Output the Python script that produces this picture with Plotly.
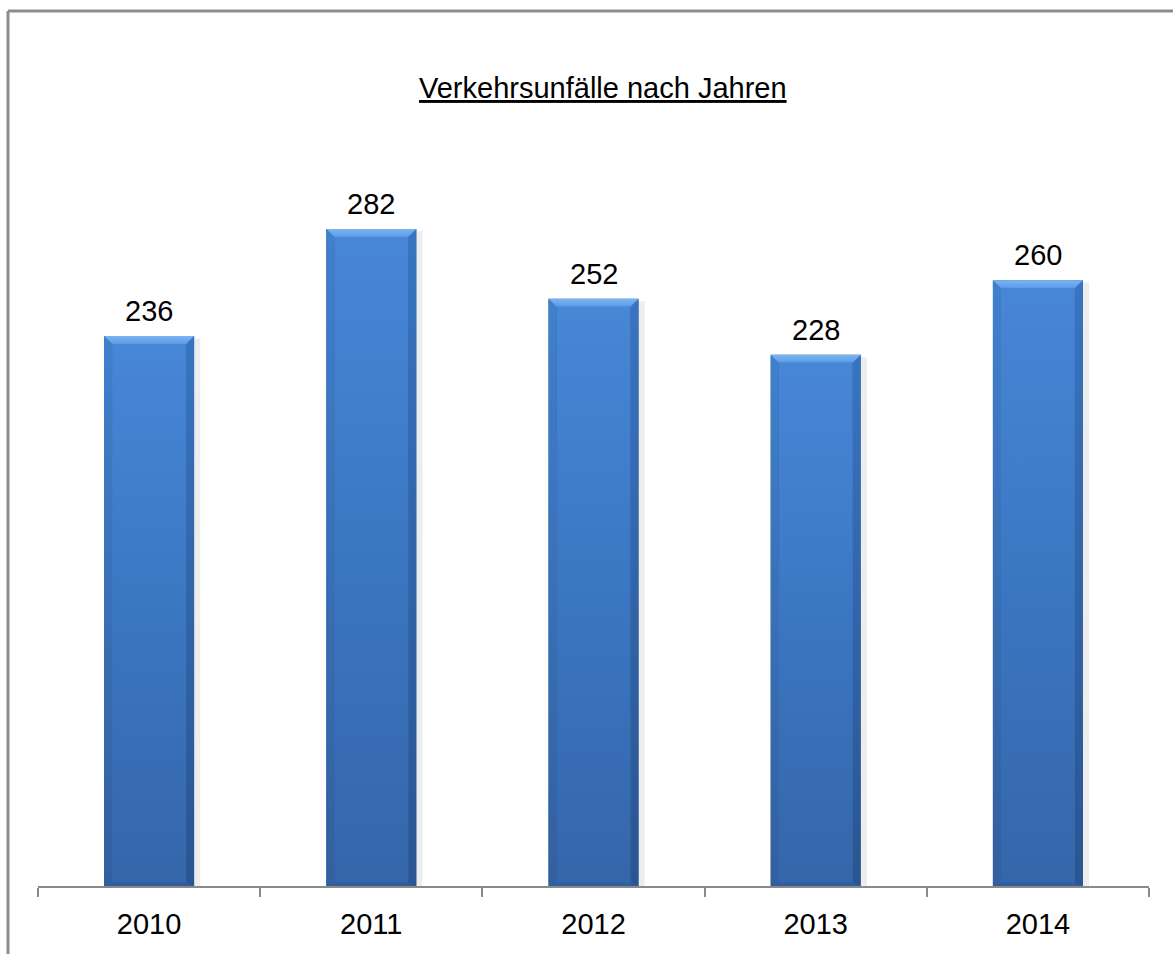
import plotly.graph_objects as go

# Data
years = ["2010", "2011", "2012", "2013", "2014"]
accidents = [236, 282, 252, 228, 260]
title_text = "Verkehrsunfälle nach Jahren"

# Figure geometry (pixels)
W, H = 1173, 954
L, R, T, B = 38, 24, 100, 68
plot_w = W - L - R
plot_h = H - T - B
px_per_unit = 2.33
y_max = plot_h / px_per_unit

bar_w = 0.405
bevel_x = 8 / (plot_w / 5)
bevel_y = 8 / px_per_unit

FONT = "Liberation Sans, Arial, Helvetica, sans-serif"
TEXT_SIZE = 29

idx = list(range(len(years)))

fig = go.Figure()

# soft shadow behind bars
fig.add_trace(go.Bar(
    x=idx, y=[v - 1 for v in accidents], width=bar_w + 0.025, offset=-bar_w / 2 + 0.003,
    marker=dict(color="rgba(0,0,0,0.07)", line=dict(width=0)),
    hoverinfo="skip", showlegend=False,
))

# base bar (edge colour)
fig.add_trace(go.Bar(
    x=idx, y=accidents, width=bar_w,
    marker=dict(color="#2f5e9f", line=dict(width=0)),
    hoverinfo="skip", showlegend=False,
))

for i, v in zip(idx, accidents):
    x0, x1 = i - bar_w / 2, i + bar_w / 2
    # left bevel
    fig.add_trace(go.Scatter(
        x=[x0, x0, x0 + bevel_x, x0 + bevel_x, x0],
        y=[0, v, v - bevel_y, bevel_y * 0.4, 0],
        mode="lines", line=dict(width=0), fill="toself",
        fillgradient=dict(type="vertical",
                          colorscale=[[0, "#325f9f"], [1, "#4080cc"]]),
        hoverinfo="skip", showlegend=False,
    ))
    # right bevel
    fig.add_trace(go.Scatter(
        x=[x1, x1, x1 - bevel_x, x1 - bevel_x, x1],
        y=[0, v, v - bevel_y, bevel_y * 0.4, 0],
        mode="lines", line=dict(width=0), fill="toself",
        fillgradient=dict(type="vertical",
                          colorscale=[[0, "#2a5590"], [1, "#3874c0"]]),
        hoverinfo="skip", showlegend=False,
    ))
    # front face
    fig.add_trace(go.Scatter(
        x=[x0 + bevel_x, x1 - bevel_x, x1 - bevel_x, x0 + bevel_x, x0 + bevel_x],
        y=[bevel_y * 0.4, bevel_y * 0.4, v - bevel_y, v - bevel_y, bevel_y * 0.4],
        mode="lines", line=dict(width=0), fill="toself",
        fillgradient=dict(type="vertical",
                          colorscale=[[0, "#3566aa"], [0.5, "#3b76c2"], [1, "#4886d6"]]),
        hoverinfo="skip", showlegend=False,
    ))
    # top bevel
    fig.add_trace(go.Scatter(
        x=[x0, x1, x1 - bevel_x, x0 + bevel_x, x0],
        y=[v, v, v - bevel_y, v - bevel_y, v],
        mode="lines", line=dict(width=0), fill="toself",
        fillgradient=dict(type="vertical",
                          colorscale=[[0, "#5a9be6"], [1, "#7cb4f2"]]),
        hoverinfo="skip", showlegend=False,
    ))
    # value label
    fig.add_annotation(
        x=i, y=v, text=str(v), showarrow=False,
        yanchor="bottom", yshift=7,
        font=dict(family=FONT, size=TEXT_SIZE, color="#000000"),
    )


def px_x(p):
    return (p - L) / plot_w


def px_y(p):
    return (H - B - p) / plot_h


# outer frame (top and left edges)
frame = dict(color="#8c8c8c", width=3)
fig.add_shape(type="line", xref="paper", yref="paper",
              x0=px_x(8), x1=px_x(W + 5), y0=px_y(11), y1=px_y(11), line=frame)
fig.add_shape(type="line", xref="paper", yref="paper",
              x0=px_x(8), x1=px_x(8), y0=px_y(11), y1=px_y(H + 5), line=frame)

# underlined title
fig.add_annotation(
    xref="paper", yref="paper", x=px_x(603), y=px_y(106),
    xanchor="center", yanchor="bottom",
    text="<u>" + title_text + "</u>", showarrow=False,
    font=dict(family=FONT, size=TEXT_SIZE, color="#000000"),
)

fig.update_layout(
    width=W, height=H,
    margin=dict(l=L, r=R, t=T, b=B, pad=0),
    paper_bgcolor="white", plot_bgcolor="white",
    barmode="overlay",
    showlegend=False,
    xaxis=dict(
        range=[-0.5, 4.5], tickmode="array", tickvals=idx, ticktext=years,
        ticks="", showgrid=False, zeroline=False,
        showline=True, linecolor="#8a8a8a", linewidth=2,
        tickfont=dict(family=FONT, size=TEXT_SIZE, color="#000000"),
        ticklabelstandoff=11,
        minor=dict(tickmode="array", tickvals=[k - 0.5 for k in range(len(years) + 1)],
                   ticks="outside", ticklen=9, tickwidth=2, tickcolor="#8a8a8a",
                   showgrid=False),
        fixedrange=True,
    ),
    yaxis=dict(
        range=[0, y_max], visible=False, showgrid=False, zeroline=False,
        fixedrange=True,
    ),
)

fig.write_html("out.html")
